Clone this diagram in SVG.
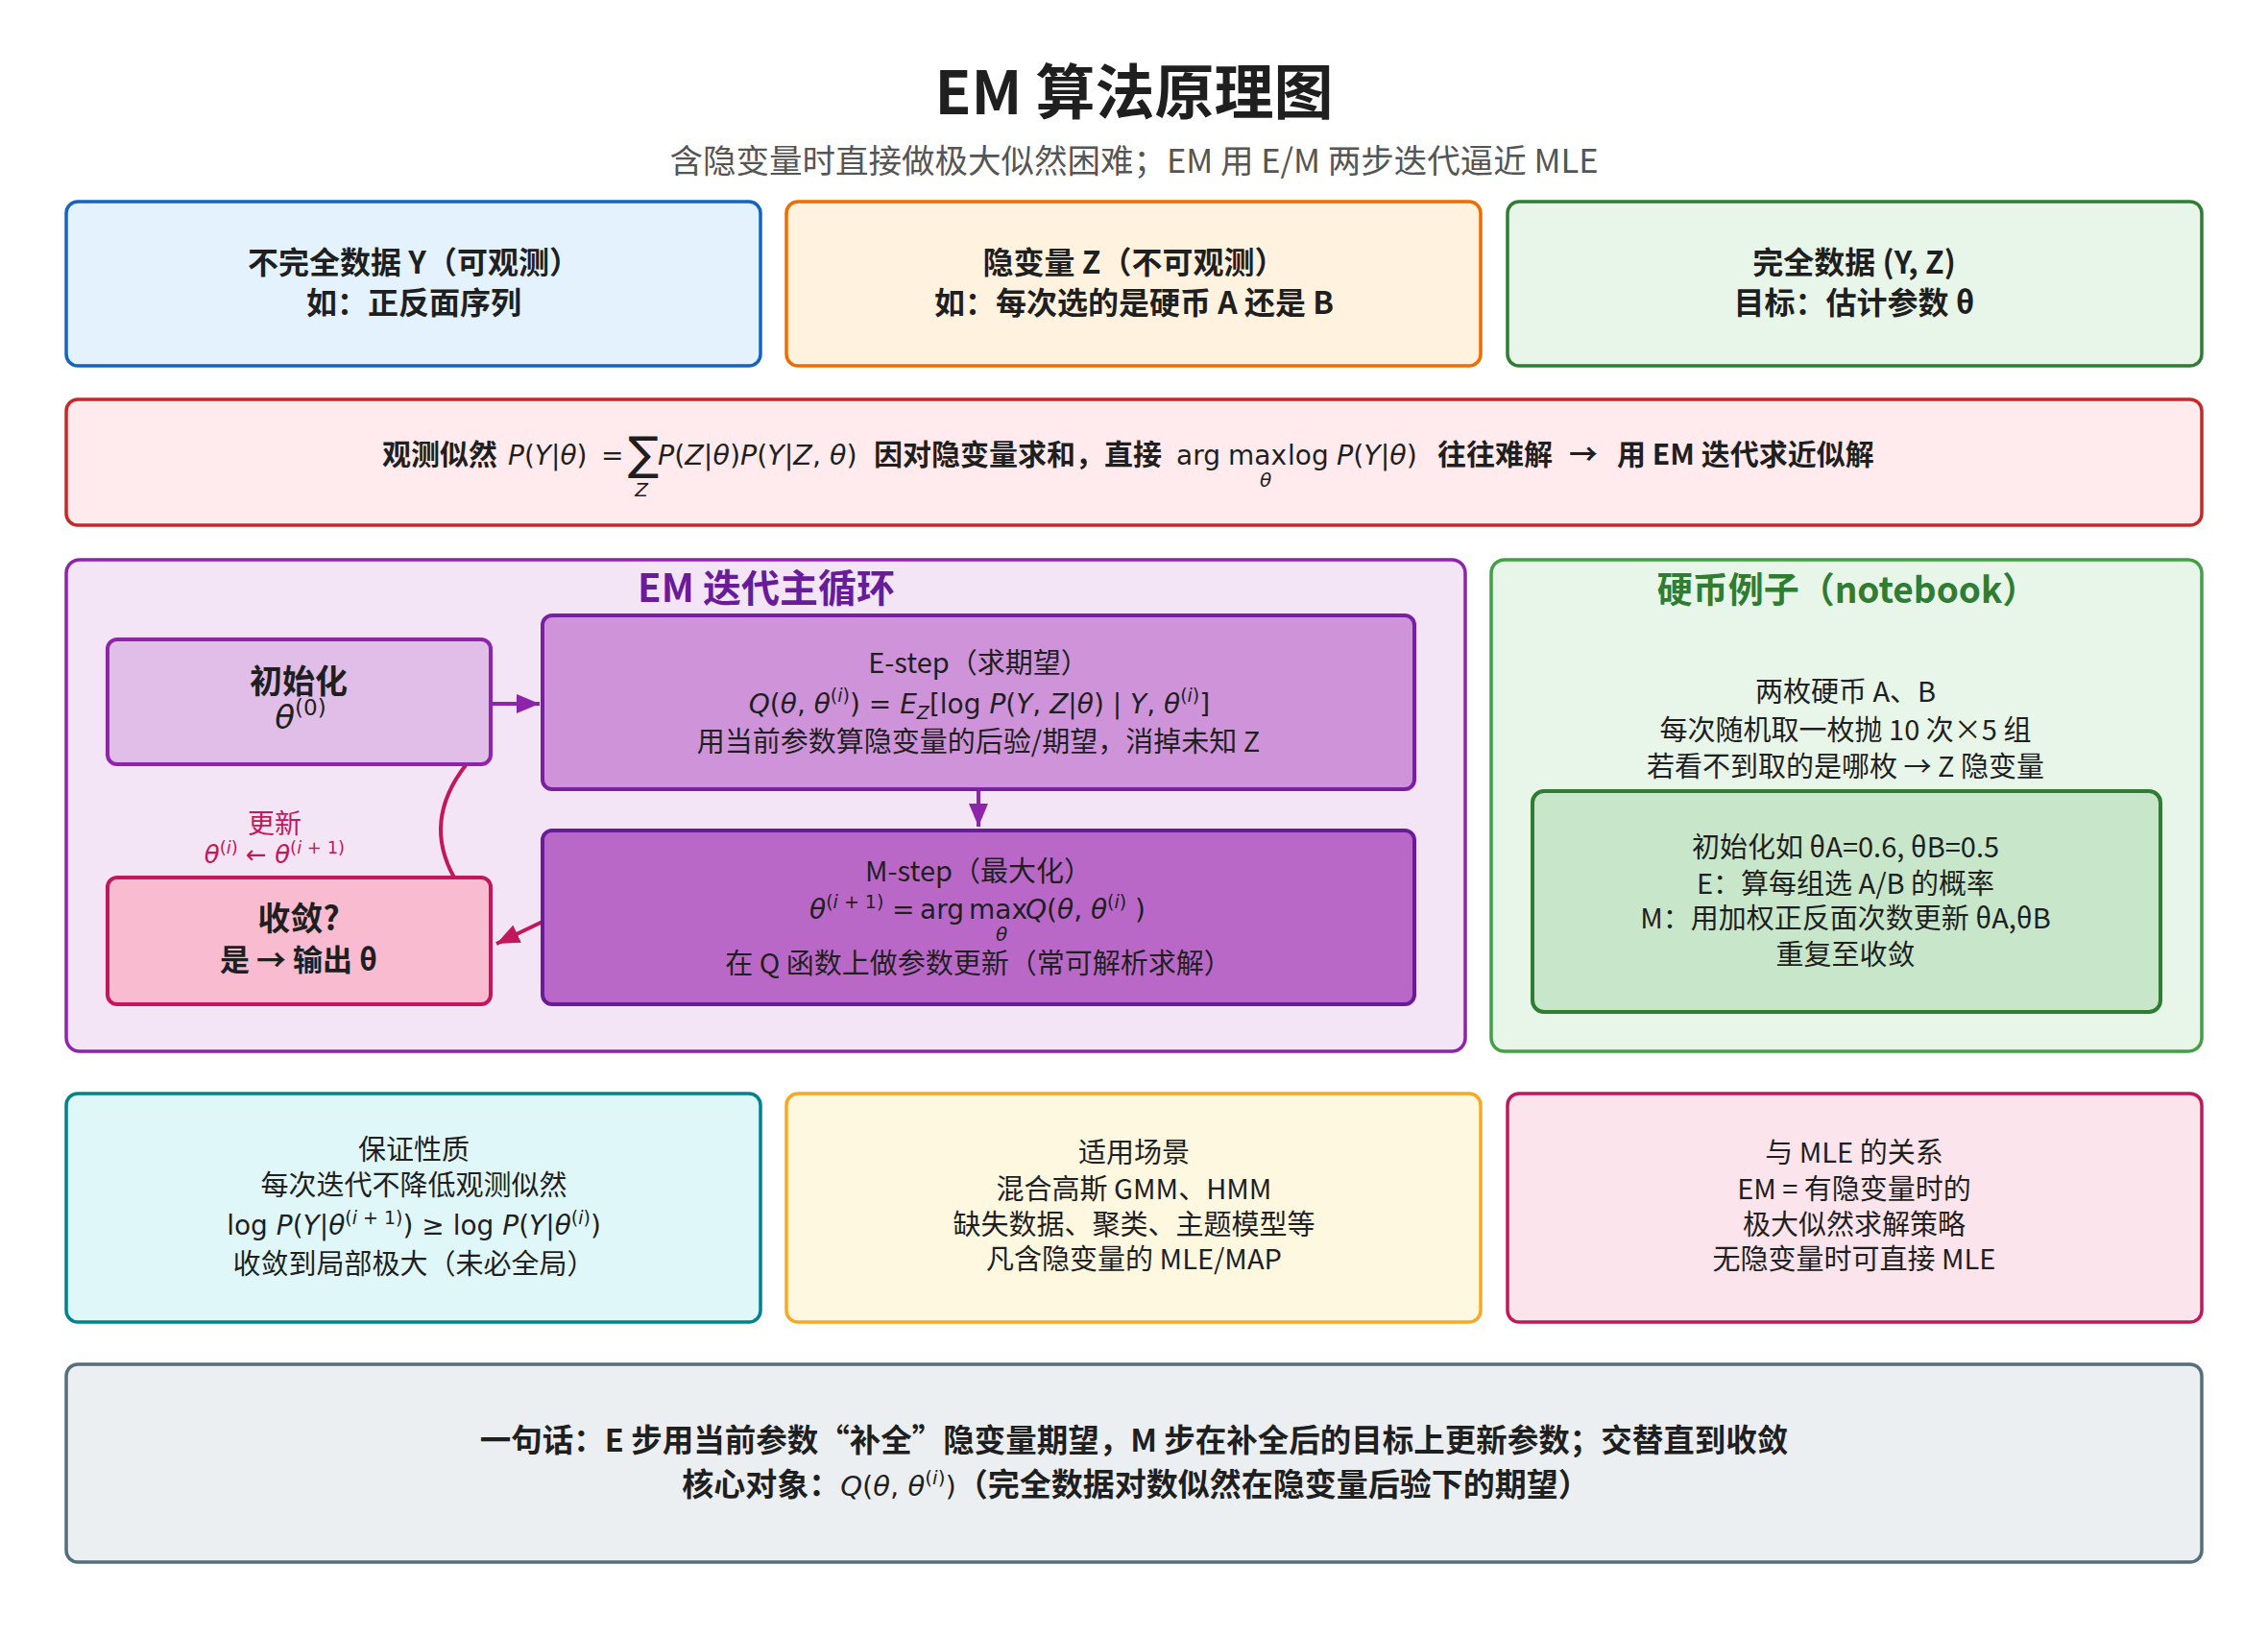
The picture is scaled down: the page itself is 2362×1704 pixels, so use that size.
<svg xmlns="http://www.w3.org/2000/svg" width="2362" height="1704" viewBox="0 0 2362 1704">
<style>
.t{font-family:"Noto Sans CJK SC","Noto Sans",sans-serif;fill:#1f1f1f}
.b{font-weight:bold}
.m{font-family:"DejaVu Sans",sans-serif;fill:#1f1f1f}
.i{font-style:italic}
.c{text-anchor:middle}
.box{stroke-width:3.5}
</style>
<defs>
<marker id="ap" viewBox="0 0 12 10" refX="12" refY="5" markerWidth="6" markerHeight="5" orient="auto" markerUnits="strokeWidth"><path d="M0,0 L12,5 L0,10 z" fill="#8e24aa"/></marker>
<marker id="am" viewBox="0 0 12 10" refX="12" refY="5" markerWidth="6" markerHeight="5" orient="auto" markerUnits="strokeWidth"><path d="M0,0 L12,5 L0,10 z" fill="#c2185b"/></marker>
</defs>
<rect width="2362" height="1704" fill="#ffffff"/>

<g id="title">
<text class="t b c" x="1181" y="119" font-size="62">EM 算法原理图</text>
<text class="t c" x="1181" y="180" font-size="34.5" style="fill:#555">含隐变量时直接做极大似然困难；EM 用 E/M 两步迭代逼近 MLE</text>
</g>

<g id="incomplete">
<rect class="box" x="69" y="210" width="723" height="171" rx="12" fill="#e3f2fd" stroke="#1565c0"/>
<text class="t b c" x="431" y="285" font-size="32">不完全数据 Y（可观测）</text>
<text class="t b c" x="431" y="327" font-size="32">如：正反面序列</text>
</g>
<g id="latent">
<rect class="box" x="819" y="210" width="723" height="171" rx="12" fill="#fff3e0" stroke="#ef6c00"/>
<text class="t b c" x="1181" y="285" font-size="32">隐变量 Z（不可观测）</text>
<text class="t b c" x="1181" y="327" font-size="32">如：每次选的是硬币 A 还是 B</text>
</g>
<g id="complete">
<rect class="box" x="1570" y="210" width="723" height="171" rx="12" fill="#e8f5e9" stroke="#2e7d32"/>
<text class="t b c" x="1931" y="285" font-size="32">完全数据 (Y, Z)</text>
<text class="t b c" x="1931" y="327" font-size="32">目标：估计参数 θ</text>
</g>

<g id="likelihood">
<rect class="box" x="69" y="416" width="2224" height="131" rx="12" fill="#ffebee" stroke="#c62828"/>
<text class="t b" x="398" y="484" font-size="30">观测似然</text>
<text class="m" x="529" y="484" font-size="28"><tspan class="i">P</tspan>(<tspan class="i">Y</tspan>|<tspan class="i">θ</tspan>)</text>
<text class="m" x="626" y="484" font-size="28">=</text>
<text class="m" x="654" y="489" font-size="48">∑</text>
<text class="m i c" x="668" y="517" font-size="20">Z</text>
<text class="m" x="685" y="484" font-size="28.5"><tspan class="i">P</tspan>(<tspan class="i">Z</tspan>|<tspan class="i">θ</tspan>)<tspan class="i">P</tspan>(<tspan class="i">Y</tspan>|<tspan class="i">Z</tspan>, <tspan class="i">θ</tspan>)</text>
<text class="t b" x="910" y="484" font-size="30">因对隐变量求和，直接</text>
<text class="m" x="1225" y="484" font-size="28">arg</text>
<text class="m" x="1279" y="484" font-size="28">max</text>
<text class="m i c" x="1318" y="507" font-size="20">θ</text>
<text class="m" x="1341" y="484" font-size="28">log</text>
<text class="m" x="1392" y="484" font-size="28.5"><tspan class="i">P</tspan>(<tspan class="i">Y</tspan>|<tspan class="i">θ</tspan>)</text>
<text class="t b" x="1497" y="484" font-size="30">往往难解</text>
<text class="t b" x="1634" y="484" font-size="30">→</text>
<text class="t b" x="1684" y="484" font-size="30">用 EM 迭代求近似解</text>
</g>

<g id="em-loop">
<rect class="box" x="69" y="583" width="1457" height="512" rx="14" fill="#f3e5f5" stroke="#8e24aa"/>
<text class="t b c" x="798" y="627" font-size="40" style="fill:#6a1b9a">EM 迭代主循环</text>
</g>

<g id="connectors" fill="none">
<path d="M473,914 Q440,855 485,797" stroke="#c2185b" stroke-width="4"/>
<line x1="511" y1="733" x2="562" y2="733" stroke="#8e24aa" stroke-width="4" marker-end="url(#ap)"/>
<line x1="1019" y1="823" x2="1019" y2="861" stroke="#8e24aa" stroke-width="4" marker-end="url(#ap)"/>
<line x1="565" y1="960" x2="517" y2="983" stroke="#c2185b" stroke-width="4" marker-end="url(#am)"/>
<text class="t c" x="286" y="868" font-size="28" style="fill:#c2185b">更新</text>
<text class="m c" x="286" y="899" font-size="26" style="fill:#c2185b"><tspan class="i">θ</tspan><tspan dy="-10" font-size="18">(<tspan class="i">i</tspan>)</tspan><tspan dy="10"> ← </tspan><tspan class="i">θ</tspan><tspan dy="-10" font-size="18">(<tspan class="i">i</tspan> + 1)</tspan></text>
</g>

<g id="init">
<rect x="112" y="666" width="399" height="130" rx="10" fill="#e1bee7" stroke="#8e24aa" stroke-width="4"/>
<text class="t b c" x="311" y="722" font-size="34">初始化</text>
<text class="m c" x="313" y="759" font-size="34"><tspan class="i">θ</tspan><tspan dy="-14" font-size="23">(0)</tspan></text>
</g>

<g id="e-step">
<rect x="565" y="641" width="908" height="181" rx="10" fill="#ce93d8" stroke="#7b1fa2" stroke-width="4"/>
<text class="t c" x="1019" y="701" font-size="29">E-step（求期望）</text>
<text class="m c" x="1020" y="743" font-size="28"><tspan class="i">Q</tspan>(<tspan class="i">θ</tspan>, <tspan class="i">θ</tspan><tspan dy="-12" font-size="19">(<tspan class="i">i</tspan>)</tspan><tspan dy="12">) = </tspan><tspan class="i">E</tspan><tspan dy="6" font-size="19" class="i">Z</tspan><tspan dy="-6">[log </tspan><tspan class="i">P</tspan>(<tspan class="i">Y</tspan>, <tspan class="i">Z</tspan>|<tspan class="i">θ</tspan>) | <tspan class="i">Y</tspan>, <tspan class="i">θ</tspan><tspan dy="-12" font-size="19">(<tspan class="i">i</tspan>)</tspan><tspan dy="12">]</tspan></text>
<text class="t c" x="1019" y="783" font-size="29">用当前参数算隐变量的后验/期望，消掉未知 Z</text>
</g>

<g id="m-step">
<rect x="565" y="865" width="908" height="181" rx="10" fill="#ba68c8" stroke="#6a1b9a" stroke-width="4"/>
<text class="t c" x="1019" y="918" font-size="29">M-step（最大化）</text>
<text class="m" x="843" y="957" font-size="28"><tspan class="i">θ</tspan><tspan dy="-11" font-size="19">(<tspan class="i">i</tspan> + 1)</tspan></text>
<text class="m" x="929" y="957" font-size="28">=</text>
<text class="m" x="958" y="957" font-size="28">arg</text>
<text class="m" x="1009" y="957" font-size="28">max</text>
<text class="m i c" x="1043" y="980" font-size="20">θ</text>
<text class="m" x="1068" y="957" font-size="28"><tspan class="i">Q</tspan>(<tspan class="i">θ</tspan>, <tspan class="i">θ</tspan><tspan dy="-11" font-size="19">(<tspan class="i">i</tspan>)</tspan><tspan dy="11"> )</tspan></text>
<text class="t c" x="1019" y="1014" font-size="29">在 Q 函数上做参数更新（常可解析求解）</text>
</g>

<g id="converge">
<rect x="112" y="914" width="399" height="132" rx="10" fill="#f8bbd0" stroke="#c2185b" stroke-width="4"/>
<text class="t b c" x="311" y="969" font-size="34">收敛?</text>
<text class="t b c" x="311" y="1011" font-size="31">是 → 输出 θ</text>
</g>

<g id="coin-example">
<rect class="box" x="1553" y="583" width="740" height="512" rx="14" fill="#e8f5e9" stroke="#43a047"/>
<text class="t b c" x="1924" y="628" font-size="37" style="fill:#2e7d32">硬币例子（notebook）</text>
<text class="t c" x="1922" y="731" font-size="29">两枚硬币 A、B</text>
<text class="t c" x="1922" y="771" font-size="29">每次随机取一枚抛 10 次×5 组</text>
<text class="t c" x="1922" y="809" font-size="29">若看不到取的是哪枚 → Z 隐变量</text>
</g>
<g id="coin-steps">
<rect x="1596" y="824" width="654" height="230" rx="12" fill="#c8e6c9" stroke="#2e7d32" stroke-width="4"/>
<text class="t c" x="1922" y="893" font-size="29">初始化如 θA=0.6, θB=0.5</text>
<text class="t c" x="1922" y="931" font-size="29">E：算每组选 A/B 的概率</text>
<text class="t c" x="1922" y="967" font-size="29">M：用加权正反面次数更新 θA,θB</text>
<text class="t c" x="1922" y="1005" font-size="29">重复至收敛</text>
</g>

<g id="guarantee">
<rect class="box" x="69" y="1139" width="723" height="238" rx="12" fill="#e0f7fa" stroke="#00838f"/>
<text class="t c" x="431" y="1208" font-size="29">保证性质</text>
<text class="t c" x="431" y="1245" font-size="29">每次迭代不降低观测似然</text>
<text class="m c" x="431" y="1286" font-size="28">log <tspan class="i">P</tspan>(<tspan class="i">Y</tspan>|<tspan class="i">θ</tspan><tspan dy="-11" font-size="19">(<tspan class="i">i</tspan> + 1)</tspan><tspan dy="11">) ≥ log </tspan><tspan class="i">P</tspan>(<tspan class="i">Y</tspan>|<tspan class="i">θ</tspan><tspan dy="-11" font-size="19">(<tspan class="i">i</tspan>)</tspan><tspan dy="11">)</tspan></text>
<text class="t c" x="431" y="1327" font-size="29">收敛到局部极大（未必全局）</text>
</g>
<g id="scenarios">
<rect class="box" x="819" y="1139" width="723" height="238" rx="12" fill="#fff8e1" stroke="#f9a825"/>
<text class="t c" x="1181" y="1211" font-size="29">适用场景</text>
<text class="t c" x="1181" y="1249" font-size="29">混合高斯 GMM、HMM</text>
<text class="t c" x="1181" y="1286" font-size="29">缺失数据、聚类、主题模型等</text>
<text class="t c" x="1181" y="1322" font-size="29">凡含隐变量的 MLE/MAP</text>
</g>
<g id="mle-relation">
<rect class="box" x="1570" y="1139" width="723" height="238" rx="12" fill="#fce4ec" stroke="#c2185b"/>
<text class="t c" x="1931" y="1211" font-size="29">与 MLE 的关系</text>
<text class="t c" x="1931" y="1249" font-size="29">EM = 有隐变量时的</text>
<text class="t c" x="1931" y="1286" font-size="29">极大似然求解策略</text>
<text class="t c" x="1931" y="1322" font-size="29">无隐变量时可直接 MLE</text>
</g>

<g id="summary">
<rect class="box" x="69" y="1421" width="2224" height="206" rx="12" fill="#eceff1" stroke="#546e7a"/>
<text class="t b c" x="1181" y="1512" font-size="32.5">一句话：E 步用当前参数“补全”隐变量期望，M 步在补全后的目标上更新参数；交替直到收敛</text>
<text class="t b c" x="1183" y="1558" font-size="33">核心对象：<tspan class="m i" font-weight="normal" font-size="29">Q</tspan><tspan class="m" font-weight="normal" font-size="29">(<tspan class="i">θ</tspan>, <tspan class="i">θ</tspan></tspan><tspan class="m" font-weight="normal" font-size="20" dy="-12">(<tspan class="i">i</tspan>)</tspan><tspan class="m" font-weight="normal" font-size="29" dy="12">)</tspan>（完全数据对数似然在隐变量后验下的期望）</text>
</g>
</svg>
